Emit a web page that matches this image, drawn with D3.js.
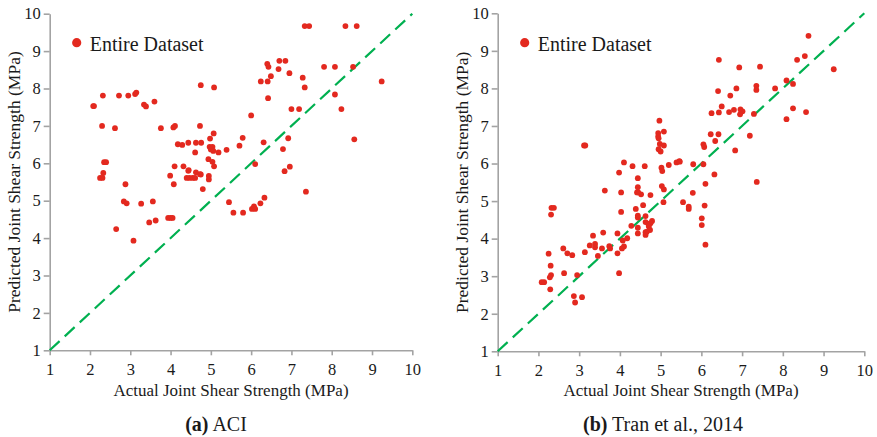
<!DOCTYPE html>
<html>
<head>
<meta charset="utf-8">
<script src="https://cdn.jsdelivr.net/npm/d3@7"></script>
<style>
  body { margin: 0; background: #fff; }
  text { font-family: 'Liberation Serif', 'Times New Roman', serif; fill: #1a1a1a; }
</style>
</head>
<body>
<div class="viz"></div>
<script>
// actual vs predicted joint shear strength (MPa)
const aciData = [
  [4.75, 8.09], [5.08, 8.03], [2.08, 7.53], [2.10, 7.53], [2.32, 7.81], [2.72, 7.81],
  [2.95, 7.81], [3.12, 7.85], [3.15, 7.89], [3.34, 7.57], [3.39, 7.52], [3.60, 7.65],
  [2.30, 7.0], [2.62, 6.94], [3.76, 6.94], [4.07, 6.96], [4.11, 7.0], [4.73, 7.0],
  [4.18, 6.51], [4.29, 6.49], [4.44, 6.55], [4.63, 6.55], [4.76, 6.55], [4.98, 6.66],
  [5.07, 6.80], [4.97, 6.44], [5.04, 6.44], [5.0, 6.37], [5.06, 6.33], [4.61, 6.29],
  [5.19, 6.29], [5.39, 6.36], [5.71, 6.47], [2.35, 6.03], [2.40, 6.03], [2.33, 5.74],
  [2.25, 5.61], [2.31, 5.61], [4.10, 5.92], [4.32, 5.92], [4.45, 5.82], [3.99, 5.67],
  [4.94, 6.11], [5.04, 6.04], [5.08, 5.92], [4.73, 5.71], [4.95, 5.66], [4.95, 5.57],
  [2.88, 5.44], [2.84, 4.98], [2.91, 4.93], [3.27, 4.92], [3.56, 4.98], [2.65, 4.24],
  [3.08, 3.93], [3.47, 4.42], [3.63, 4.47], [3.94, 4.54], [4.0, 4.54], [4.05, 4.54],
  [4.08, 5.44], [4.44, 5.80], [4.40, 5.61], [4.47, 5.61], [4.55, 5.61], [4.61, 5.61],
  [4.63, 5.76], [4.75, 5.70], [4.80, 5.31], [5.45, 4.96], [5.56, 4.68], [5.80, 4.68],
  [6.02, 4.78], [6.07, 4.85], [6.10, 4.78], [6.23, 4.93], [6.33, 5.08], [6.83, 5.79],
  [7.36, 5.24], [7.33, 9.67], [7.44, 9.67], [8.34, 9.67], [8.62, 9.67], [6.40, 8.66],
  [6.43, 8.58], [6.70, 8.74], [6.85, 8.74], [6.68, 8.52], [6.95, 8.41], [6.49, 8.33],
  [6.24, 8.19], [6.41, 8.19], [7.28, 8.29], [7.33, 8.03], [7.81, 8.58], [8.08, 8.58],
  [8.53, 8.58], [9.24, 8.19], [6.42, 7.74], [7.0, 7.45], [7.19, 7.45], [8.08, 7.84],
  [8.24, 7.45], [6.0, 7.28], [5.79, 6.68], [6.31, 6.56], [6.92, 6.67], [6.79, 6.38],
  [6.10, 5.98], [6.96, 5.91], [8.56, 6.64]
];

const tranData = [
  [4.97, 7.14], [5.08, 6.85], [4.94, 6.81], [4.94, 6.72], [4.95, 6.67], [4.98, 6.52],
  [5.08, 6.48], [4.95, 6.38], [5.0, 6.32], [3.12, 6.48], [3.15, 6.48], [4.10, 6.03],
  [4.31, 5.93], [4.61, 5.93], [3.98, 5.76], [4.44, 5.61], [5.02, 5.89], [5.04, 5.80],
  [5.20, 5.96], [5.39, 6.03], [5.46, 6.06], [8.63, 9.40], [8.35, 8.76], [8.54, 8.86],
  [6.43, 8.76], [6.93, 8.56], [7.44, 8.58], [9.25, 8.51], [8.09, 8.21], [8.25, 8.12],
  [7.35, 8.07], [7.35, 7.96], [7.81, 8.0], [6.41, 7.93], [6.86, 8.0], [6.71, 7.81],
  [6.50, 7.52], [6.25, 7.34], [6.43, 7.36], [6.68, 7.37], [6.80, 7.43], [6.96, 7.44],
  [7.01, 7.39], [6.95, 7.31], [7.29, 7.32], [8.25, 7.47], [8.57, 7.37], [8.09, 7.18],
  [6.23, 6.78], [6.42, 6.78], [6.34, 6.60], [6.05, 6.51], [6.07, 6.44], [7.19, 6.74],
  [6.83, 6.35], [5.47, 6.05], [5.80, 5.98], [6.05, 5.98], [6.32, 5.71], [3.63, 5.28],
  [4.03, 5.23], [4.44, 5.37], [4.45, 5.23], [4.52, 5.18], [4.42, 5.23], [5.03, 5.40],
  [5.08, 5.31], [4.75, 5.16], [5.07, 4.97], [5.55, 4.97], [5.69, 4.85], [5.69, 4.79],
  [2.32, 4.82], [2.38, 4.82], [2.31, 4.64], [4.03, 4.71], [4.57, 4.89], [4.39, 4.79],
  [4.44, 4.61], [4.44, 4.56], [4.63, 4.60], [4.79, 4.47], [4.63, 4.44], [4.70, 4.39],
  [4.75, 4.41], [4.28, 4.34], [4.44, 4.29], [4.71, 4.32], [4.74, 4.23], [4.66, 4.18],
  [4.44, 4.14], [4.63, 4.17], [4.63, 4.10], [3.94, 4.14], [4.18, 4.01], [4.07, 3.95],
  [4.10, 3.79], [4.05, 3.74], [3.94, 3.61], [3.98, 3.08], [3.59, 4.16], [3.34, 4.08],
  [3.26, 3.82], [3.39, 3.86], [3.39, 3.77], [3.56, 3.74], [3.74, 3.80], [3.76, 3.74],
  [3.46, 3.54], [3.14, 3.64], [2.61, 3.74], [2.71, 3.61], [2.83, 3.56], [2.25, 3.60],
  [2.30, 3.28], [2.31, 3.03], [2.28, 2.97], [2.08, 2.84], [2.14, 2.84], [2.29, 2.65],
  [2.63, 3.08], [2.95, 3.03], [2.87, 2.47], [3.07, 2.44], [2.90, 2.30], [6.10, 5.46],
  [7.36, 5.51], [5.79, 5.22], [6.08, 4.88], [6.01, 4.54], [6.01, 4.36], [6.10, 3.84]
];

const ticks = [1, 2, 3, 4, 5, 6, 7, 8, 9, 10];
const domain = [1, 10];
const legendLabel = 'Entire Dataset';
const xTitle = 'Actual Joint Shear Strength (MPa)';
const yTitle = 'Predicted Joint Shear Strength (MPa)';
const captionTags = ['(a)', '(b)'];
const captionNames = [' ACI', ' Tran et al., 2014'];

const width = 877, height = 437;
const red = '#e3291f', green = '#00b050', axisGray = '#a3a3a3';

// plot boxes in page pixels
const panels = [
  { data: aciData, left: 49.7, right: 412.3, top: 13.7, bottom: 350.3 },
  { data: tranData, left: 497.7, right: 864.3, top: 13.3, bottom: 351.3 }
];

const svg = d3
  .select('.viz')
  .append('svg')
  .attr('width', width)
  .attr('height', height);

svg.append('rect').attr('width', width).attr('height', height).attr('fill', '#fff');

panels.forEach((p, i) => {
  const x = d3.scaleLinear().domain(domain).range([p.left, p.right]);
  const y = d3.scaleLinear().domain(domain).range([p.bottom, p.top]);
  const g = svg.append('g');

  // x axis
  const xAxis = g
    .append('g')
    .attr('transform', 'translate(0,' + p.bottom + ')')
    .call(d3.axisBottom(x).tickValues(ticks).tickSize(5).tickSizeOuter(0).tickPadding(8));
  // y axis
  const yAxis = g
    .append('g')
    .attr('transform', 'translate(' + p.left + ',0)')
    .call(d3.axisLeft(y).tickValues(ticks).tickSize(6).tickSizeOuter(0).tickPadding(3));

  [xAxis, yAxis].forEach(a => {
    a.select('.domain').attr('stroke', axisGray).attr('stroke-width', 1.6);
    a.selectAll('.tick line').attr('stroke', axisGray).attr('stroke-width', 1.6);
    a.selectAll('.tick text')
      .attr('font-size', 16.5)
      .attr('fill', '#1a1a1a')
      .style('font-family', "'Liberation Serif', 'Times New Roman', serif");
  });

  // 1:1 line
  g.append('line')
    .attr('x1', x(1)).attr('y1', y(1))
    .attr('x2', x(10)).attr('y2', y(10))
    .attr('stroke', green)
    .attr('stroke-width', 2.2)
    .attr('stroke-dasharray', '13.5,7');

  g.append('g')
    .selectAll('circle')
    .data(p.data)
    .enter()
    .append('circle')
    .attr('cx', d => x(d[0]))
    .attr('cy', d => y(d[1]))
    .attr('r', 2.9)
    .attr('fill', red);

  // legend
  g.append('circle')
    .attr('cx', p.left + 27)
    .attr('cy', 42.7)
    .attr('r', 4.6)
    .attr('fill', red);
  g.append('text')
    .attr('x', p.left + 40)
    .attr('y', 50.5)
    .attr('font-size', 20)
    .text(legendLabel);

  // axis titles
  g.append('text')
    .attr('x', (p.left + p.right) / 2)
    .attr('y', 396)
    .attr('text-anchor', 'middle')
    .attr('font-size', 17)
    .text(xTitle);
  g.append('text')
    .attr('transform', 'translate(' + (p.left - 30) + ',' + (p.top + p.bottom) / 2 + ') rotate(-90)')
    .attr('text-anchor', 'middle')
    .attr('font-size', 17.5)
    .text(yTitle);

  // caption
  const cap = g.append('text')
    .attr('x', i === 0 ? 216 : 663)
    .attr('y', 431)
    .attr('text-anchor', 'middle')
    .attr('font-size', 20);
  cap.append('tspan').attr('font-weight', 'bold').text(captionTags[i]);
  cap.append('tspan').text(captionNames[i]);
});
</script>
</body>
</html>
